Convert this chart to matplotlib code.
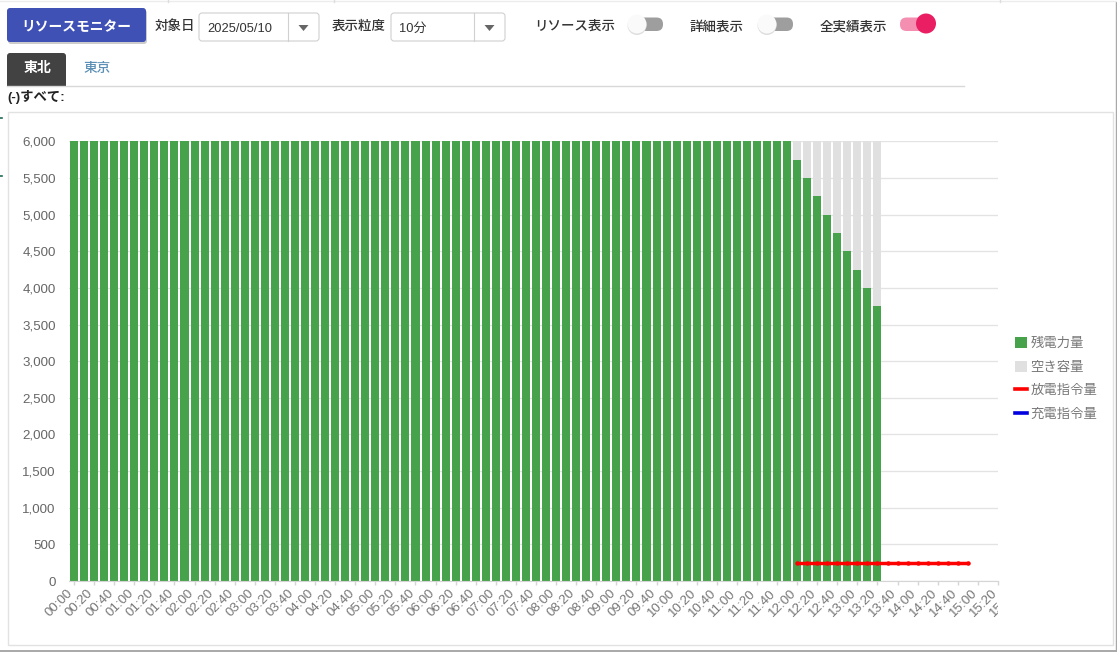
import matplotlib
matplotlib.use('Agg')
import matplotlib.pyplot as plt
from matplotlib.patches import FancyBboxPatch, Rectangle, Circle, Polygon, Patch
from matplotlib.lines import Line2D
from matplotlib.transforms import Bbox, ScaledTranslation

plt.rcParams['font.family'] = ['Liberation Sans', 'Noto Sans CJK JP']

W, H = 1117, 652

# chart data, one bar every 10 minutes from 00:00
remaining = [6000] * 72 + [5750, 5500, 5250, 5000, 4750, 4500, 4250, 4000, 3750]
free_space = [0] * 72 + [250, 500, 750, 1000, 1250, 1500, 1750, 2000, 2250]
discharge = [250] * 18
discharge_start = 72

time_labels = ['00:00', '00:20', '00:40', '01:00', '01:20', '01:40', '02:00', '02:20',
               '02:40', '03:00', '03:20', '03:40', '04:00', '04:20', '04:40', '05:00',
               '05:20', '05:40', '06:00', '06:20', '06:40', '07:00', '07:20', '07:40',
               '08:00', '08:20', '08:40', '09:00', '09:20', '09:40', '10:00', '10:20',
               '10:40', '11:00', '11:20', '11:40', '12:00', '12:20', '12:40', '13:00',
               '13:20', '13:40', '14:00', '14:20', '14:40', '15:00', '15:20', '15:40']
y_ticks = [0, 500, 1000, 1500, 2000, 2500, 3000, 3500, 4000, 4500, 5000, 5500, 6000]
legend_labels = ['残電力量', '空き容量', '放電指令量', '充電指令量']

fig = plt.figure(figsize=(W / 100, H / 100), dpi=100)

# page furniture lives on an axes measured in pixels
ui = fig.add_axes([0, 0, 1, 1])
ui.set_xlim(0, W)
ui.set_ylim(H, 0)
ui.axis('off')


def rbox(x0, y0, x1, y1, face, edge='none', r=3, lw=1.0, z=2):
    ui.add_patch(FancyBboxPatch((x0 + r, y0 + r), x1 - x0 - 2 * r, y1 - y0 - 2 * r,
                                boxstyle=f'round,pad={r},rounding_size={r}',
                                fc=face, ec=edge, lw=lw, zorder=z))


def select(x0, x1, divider, text):
    rbox(x0, 13, x1, 41, 'white', '#d0d0d0', lw=0.8)
    ui.plot([divider, divider], [13, 41], color='#d0d0d0', lw=0.8, zorder=3)
    cx = (divider + x1) / 2
    ui.add_patch(Polygon([(cx - 5, 25), (cx + 5, 25), (cx, 31)], fc='#666666', ec='none', zorder=3))
    ui.text(x0 + 8, 28.5, text, fontsize=9.3, color='#333333', va='center', ha='left', zorder=4)


def toggle(x0, x1, thumb_x, on=False):
    track = '#f48fb1' if on else '#9e9e9e'
    rbox(x0, 17.5, x1, 31, track, r=6.5)
    if on:
        ui.add_patch(Circle((thumb_x, 23.5), 10, fc='#e91e63', ec='none', zorder=4))
    else:
        ui.add_patch(Circle((thumb_x, 25.5), 9.5, fc='#dddddd', ec='none', zorder=3))
        ui.add_patch(Circle((thumb_x, 24), 9.5, fc='#fafafa', ec='none', zorder=4))


def label(x, y, s, size=9.7, color='#333333', weight='medium', ha='left'):
    ui.text(x, y, s, fontsize=size, color=color, fontweight=weight, ha=ha, va='center', zorder=5)


# button
rbox(8, 10, 147, 44, '#cccccc', z=1)
rbox(7, 8, 146, 42, '#3f51b5')
label(76.5, 27, 'リソースモニター', size=9.9, color='white', weight='bold', ha='center')

label(155, 27, '対象日')
select(199, 319, 288, '2025/05/10')
label(332, 27, '表示粒度')
select(391, 505, 474, '10分')

label(534, 27, 'リソース表示')
toggle(629, 663, 637)
label(690, 27, '詳細表示')
toggle(759, 793, 767)
label(820, 27, '全実績表示')
toggle(900, 934, 926, on=True)

# tabs
rbox(7, 53, 66, 90, '#424242', r=3)
ui.add_patch(Rectangle((0, 85.5), 1100, 10, fc='white', ec='none', zorder=3))
ui.plot([7, 964], [85.5, 85.5], color='#d8d8d8', lw=1, zorder=4)
label(37, 68, '東北', size=10, color='white', weight='bold', ha='center')
label(97, 68, '東京', size=9.8, color='#5b8fb5', ha='center')
label(7, 97, '(-)すべて:', size=9.6, color='#222222', weight='bold')

# chart card and the screenshot's outer edge
ui.add_patch(Rectangle((7.5, 111.5), 1105, 533.5, fc='white', ec='#e2e2e2', lw=1, zorder=1))
ui.plot([0, W], [651, 651], color='#9a9a9a', lw=1.2, zorder=1)
ui.plot([1116, 1116], [2, H], color='#a8a8a8', lw=1.0, zorder=1)
ui.plot([0, W], [1, 1], color='#ececec', lw=1.0, zorder=1)
for page_x in [168, 334, 1000]:
    ui.plot([page_x, page_x], [0, 2], color='#dddddd', lw=1.0, zorder=1)
for page_y in [118, 176]:
    ui.plot([0, 2], [page_y, page_y], color='#1f6b55', lw=1.2, zorder=1)

# chart axes
left, right, top, bottom = 69, 998, 141.3, 581
ax = fig.add_axes([left / W, 1 - bottom / H, (right - left) / W, (bottom - top) / H])
ax.patch.set_alpha(0)
x = list(range(len(remaining)))
ax.bar(x, remaining, width=0.8, color='#47a34b', zorder=2)
ax.bar(x, free_space, width=0.8, bottom=remaining, color='#e0e0e0', zorder=2)
line_x = [discharge_start + i for i in range(len(discharge))]
ax.plot(line_x, discharge, color='#ff0000', lw=2.5, marker='o', ms=3.2, mew=0, zorder=4,
        solid_capstyle='round')

ax.set_xlim(-0.5, 92)
ax.set_ylim(0, 6000)
ax.set_yticks(y_ticks)
ax.set_yticklabels([f'{v:,}' for v in y_ticks], fontsize=9.6, color='#666666')
ax.grid(axis='y', color='black', alpha=0.11, lw=1, zorder=3)
ax.tick_params(axis='y', length=0, pad=9.5)

tick_pos = list(range(0, 2 * len(time_labels), 2))
visible = [p for p in tick_pos if p <= 92]
ax.set_xticks(visible)
ax.set_xticklabels(time_labels[:len(visible)], fontsize=9.6, color='#777777',
                   rotation=45, ha='right', rotation_mode='anchor')
ax.tick_params(axis='x', length=3, width=1, color='#d5d5d5', pad=1.5)

for side in ['top', 'left', 'right']:
    ax.spines[side].set_visible(False)
ax.spines['bottom'].set_color('#d5d5d5')

# labels sit a little left of their ticks, the last one is cut off by the canvas edge
shift = ScaledTranslation(-7 / 100, 0, fig.dpi_scale_trans)
clip = Bbox.from_extents(0, 0, right, H)
for tl in ax.get_xticklabels():
    tl.set_transform(tl.get_transform() + shift)
cut = ax.annotate(time_labels[len(visible)], xy=(tick_pos[len(visible)], 0),
                  xycoords=ax.get_xaxis_transform(), xytext=(-5.04, -4.5), textcoords='offset points',
                  fontsize=9.6, color='#777777', rotation=45, ha='right', va='top',
                  rotation_mode='anchor', annotation_clip=False)
cut.set_clip_path(None)
cut.set_clip_box(clip)
cut.set_clip_on(True)

handles = [Patch(fc='#47a34b'), Patch(fc='#e0e0e0'),
           Line2D([], [], color='#ff0000', lw=2.6), Line2D([], [], color='#0000e0', lw=2.6)]
fig.legend(handles, legend_labels, loc='center left', bbox_to_anchor=(1015 / W, 1 - 379 / H),
           frameon=False, fontsize=9.6, labelcolor='#777777', handlelength=0.9, handleheight=0.9,
           handletextpad=0.25, labelspacing=0.78, borderpad=0, borderaxespad=0)

fig.savefig('out.png', dpi=100)
